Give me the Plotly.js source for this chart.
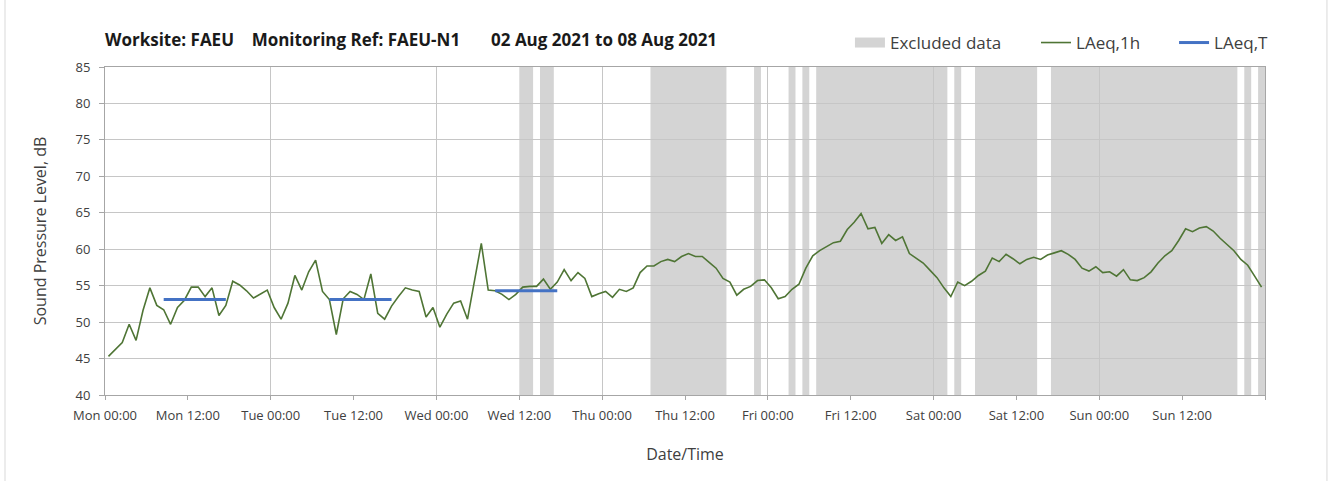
<!DOCTYPE html>
<html>
<head>
<meta charset="utf-8">
<script src="https://cdn.plot.ly/plotly-3.0.1.min.js"></script>
<style>html,body{margin:0;padding:0;background:#fff;}#chart{width:1334px;height:481px;}</style>
</head>
<body>
<div id="chart"></div>
<script>
// Hourly LAeq,1h values (dB), Mon 02 Aug 2021 00:00 -> Sun 08 Aug 2021 23:00
var laeq1h = [
  45.3, 46.2, 47.2, 49.7, 47.5, 51.6, 54.7, 52.3, 51.7, 49.7,
  52.0, 53.0, 54.8, 54.8, 53.5, 54.7, 50.9, 52.3, 55.6, 55.1,
  54.3, 53.3, 53.9, 54.4, 52.0, 50.4, 52.6, 56.4, 54.4, 56.9,
  58.5, 54.2, 53.1, 48.3, 53.2, 54.2, 53.8, 53.1, 56.6, 51.2,
  50.4, 52.2, 53.5, 54.7, 54.4, 54.2, 50.7, 52.0, 49.3, 51.1,
  52.6, 52.9, 50.4, 55.8, 60.8, 54.4, 54.3, 53.8, 53.1, 53.8,
  54.8, 54.9, 54.9, 55.9, 54.5, 55.5, 57.2, 55.7, 56.8, 56.0,
  53.5, 53.9, 54.2, 53.4, 54.5, 54.2, 54.7, 56.8, 57.7, 57.7,
  58.3, 58.6, 58.3, 59.0, 59.4, 59.0, 59.0, 58.2, 57.4, 56.0,
  55.5, 53.7, 54.5, 54.9, 55.7, 55.8, 54.7, 53.2, 53.5, 54.5,
  55.2, 57.4, 59.1, 59.8, 60.4, 60.9, 61.1, 62.7, 63.7, 64.9,
  62.8, 63.0, 60.8, 62.0, 61.2, 61.7, 59.4, 58.8, 58.1, 57.1,
  56.1, 54.7, 53.5, 55.5, 55.0, 55.6, 56.4, 57.0, 58.8, 58.3,
  59.3, 58.7, 58.0, 58.6, 58.9, 58.6, 59.2, 59.5, 59.8, 59.3,
  58.6, 57.4, 57.0, 57.6, 56.8, 56.9, 56.3, 57.2, 55.8, 55.7,
  56.1, 56.9, 58.1, 59.1, 59.8, 61.2, 62.8, 62.4, 62.9, 63.1,
  62.5, 61.5, 60.7, 59.8, 58.6, 57.8, 56.3, 54.8
];

// LAeq,T periods (hour index of first and last hourly value) and values
var periodStartHour = [8, 32, 56];
var periodEndHour   = [17, 41, 65];
var laeqT           = [53.1, 53.1, 54.3];

// Excluded data periods (hours from Mon 00:00)
var excludedStart = [60, 63, 79, 94, 99, 101, 103, 123, 126, 137, 165, 167];
var excludedEnd   = [62, 65, 90, 95, 100, 102, 122, 124, 135, 164, 166, 168];

// X axis ticks (hours from Mon 00:00) and labels
var tickHours  = [0, 12, 24, 36, 48, 60, 72, 84, 96, 108, 120, 132, 144, 156, 168];
var tickLabels = ['Mon 00:00','Mon 12:00','Tue 00:00','Tue 12:00','Wed 00:00','Wed 12:00',
                  'Thu 00:00','Thu 12:00','Fri 00:00','Fri 12:00','Sat 00:00','Sat 12:00',
                  'Sun 00:00','Sun 12:00',''];

var xHours = laeq1h.map(function(v, i){ return i + 0.5; });

var tx = [], ty = [];
for (var k = 0; k < laeqT.length; k++) {
  tx.push(periodStartHour[k] + 0.5, periodEndHour[k] + 0.5, null);
  ty.push(laeqT[k], laeqT[k], null);
}

var bandColor = '#d4d4d4';
var gridColor = '#c6c6c6';
var axisColor = '#a6a6a6';

var shapes = [];
for (var b = 0; b < excludedStart.length; b++) {
  shapes.push({type:'rect', xref:'x', yref:'paper', x0:excludedStart[b], x1:excludedEnd[b],
               y0:0, y1:1, fillcolor:bandColor, line:{width:0}, layer:'below'});
}
// outer chart frame (left / right edges)
shapes.push({type:'rect', xref:'paper', yref:'paper', x0:-0.0862, x1:1.0534, y0:-0.30, y1:1.25,
             fillcolor:'rgba(0,0,0,0)', line:{color:'#d9d9d9', width:1}, layer:'below'});

var traces = [
  {type:'scatter', mode:'lines', x:[null], y:[null], xaxis:'x2', name:'Excluded data',
   line:{color:bandColor, width:10}, legend:'legend', hoverinfo:'skip'},
  {type:'scatter', mode:'lines', x:xHours, y:laeq1h, name:'LAeq,1h',
   line:{color:'#4f7535', width:1.6}, legend:'legend2'},
  {type:'scatter', mode:'lines', x:tx, y:ty, name:'LAeq,T',
   line:{color:'#4472c4', width:3}, legend:'legend3'}
];

var legendFont = {family:'Open Sans, sans-serif', size:17, color:'#404040'};
function legendAt(x){
  return {x:x, xanchor:'left', y:1.0732, yanchor:'middle', orientation:'h',
          bgcolor:'rgba(0,0,0,0)', borderwidth:0, font:legendFont};
}

var layout = {
  width:1334, height:481,
  margin:{l:105, r:69, t:67, b:86},
  paper_bgcolor:'#ffffff', plot_bgcolor:'#ffffff',
  font:{family:'Open Sans, sans-serif', color:'#404040'},
  title:{
    text:'Worksite: FAEU\u00a0\u00a0\u00a0\u00a0Monitoring Ref: FAEU-N1\u00a0\u00a0\u00a0\u00a0\u00a0\u00a0\u00a002 Aug 2021 to 08 Aug 2021',
    font:{family:'Open Sans, sans-serif', size:17, color:'#1a1a1a', weight:700},
    xref:'paper', x:0, xanchor:'left', yref:'container', y:0.9168, yanchor:'middle'
  },
  showlegend:true,
  legend:legendAt(0.6422),
  legend2:legendAt(0.8026),
  legend3:legendAt(0.9216),
  xaxis:{
    range:[0,168], tickmode:'array', tickvals:tickHours, ticktext:tickLabels,
    ticks:'outside', ticklen:4, tickcolor:axisColor, showgrid:false, zeroline:false,
    showline:true, linecolor:axisColor, linewidth:1, mirror:true,
    tickfont:{size:13, color:'#404040'}, ticklabelstandoff:4,
    title:{text:'Date/Time', font:{size:16, color:'#404040'}, standoff:26}
  },
  xaxis2:{
    overlaying:'x', range:[0,168], tick0:0, dtick:24, showgrid:true, gridcolor:gridColor,
    gridwidth:1, showticklabels:false, ticks:'', zeroline:false, showline:false
  },
  yaxis:{
    range:[40,85], tick0:40, dtick:5, ticks:'outside', ticklen:5, tickcolor:axisColor,
    showgrid:true, gridcolor:gridColor, gridwidth:1, zeroline:false,
    showline:true, linecolor:axisColor, linewidth:1, mirror:true,
    tickfont:{size:13, color:'#404040'}, ticklabelstandoff:6,
    title:{text:'Sound Pressure Level, dB', font:{size:16, color:'#404040'}, standoff:24}
  },
  shapes:shapes
};

Plotly.newPlot('chart', traces, layout, {displayModeBar:false, staticPlot:true});
</script>
</body>
</html>
